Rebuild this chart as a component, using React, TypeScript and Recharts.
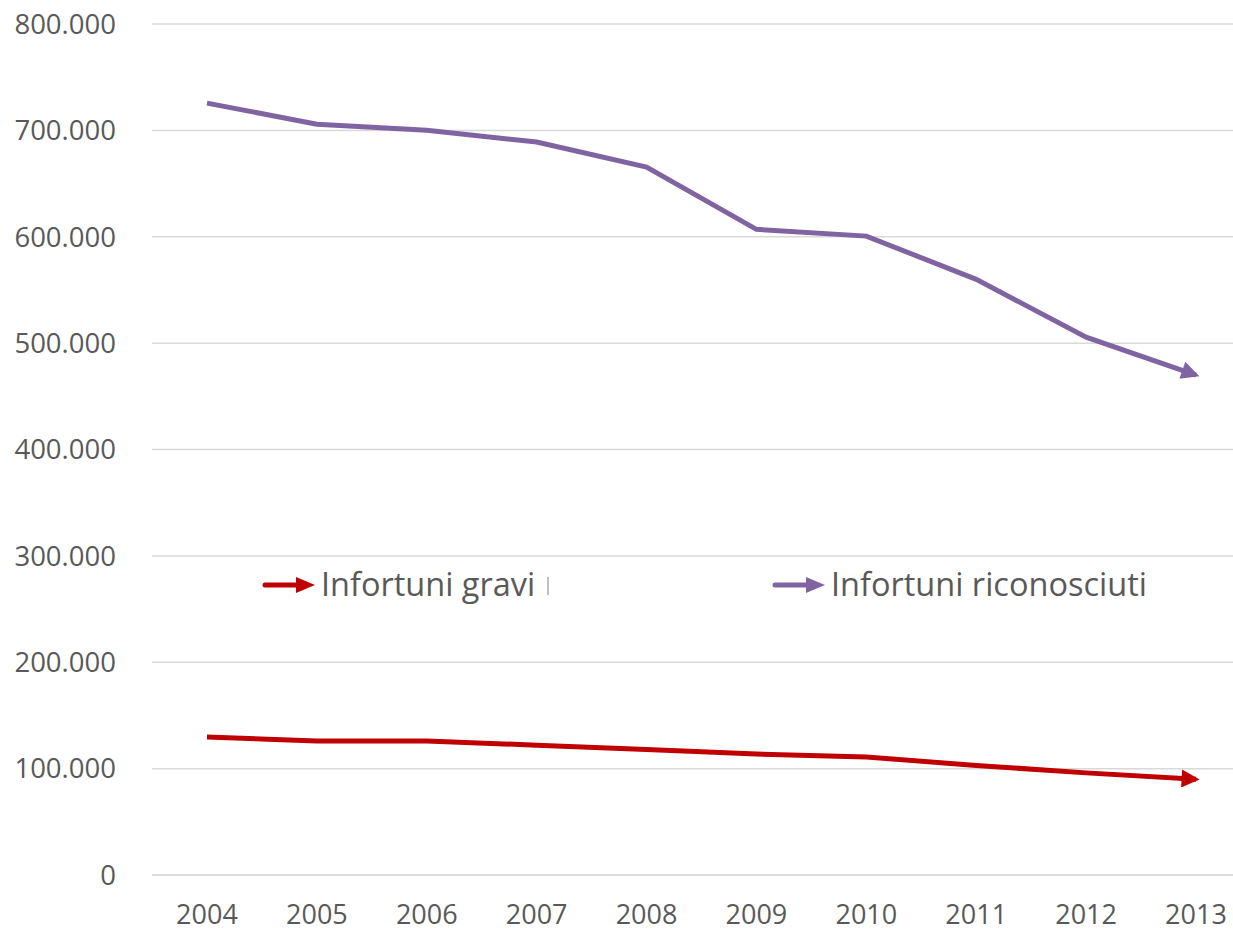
import React from 'react';
import { LineChart, Line, XAxis, YAxis, CartesianGrid, Legend } from 'recharts';

const years = ['2004', '2005', '2006', '2007', '2008', '2009', '2010', '2011', '2012', '2013'];
const infortuniGravi = [129700, 126000, 126000, 122000, 118000, 113700, 111000, 103000, 96000, 90000];
const infortuniRiconosciuti = [725600, 705800, 700200, 689000, 665400, 607000, 600600, 560000, 505600, 470000];
const yTicks = [0, 100000, 200000, 300000, 400000, 500000, 600000, 700000, 800000];

const seriesInfo = [
    { key: 'gravi', name: 'Infortuni gravi', color: '#c00000', marker: 'arrowRed' },
    { key: 'riconosciuti', name: 'Infortuni riconosciuti', color: '#8064a2', marker: 'arrowPurple' },
];

const data = years.map((year, i) => ({
    year,
    gravi: infortuniGravi[i],
    riconosciuti: infortuniRiconosciuti[i],
}));

const FONT = '"Open Sans", "Liberation Sans", sans-serif';
const TEXT = '#595959';

const formatThousands = (v: number) => (v === 0 ? '0' : v.toLocaleString('it-IT').replace(/,/g, '.'));

const LegendIcon = ({ color }: { color: string }) => (
    <svg width={53} height={16} style={{ display: 'block' }}>
        <line x1={3} y1={8} x2={38} y2={8} stroke={color} strokeWidth={5} strokeLinecap="round" />
        <path d="M34,0 L53,8 L34,16 Z" fill={color} />
    </svg>
);

const renderLegend = () => (
    <div style={{ position: 'relative', height: 50, fontFamily: FONT }}>
        {/* Infortuni gravi */}
        <div style={{ position: 'absolute', left: 262, top: 17 }}>
            <LegendIcon color={seriesInfo[0].color} />
        </div>
        <div style={{ position: 'absolute', left: 321, top: 3, fontSize: 32.5, color: TEXT, lineHeight: '42px', whiteSpace: 'nowrap' }}>
            {seriesInfo[0].name}
        </div>
        <div style={{ position: 'absolute', left: 547, top: 17, width: 2, height: 18, background: '#bfbfbf' }} />
        {/* Infortuni riconosciuti */}
        <div style={{ position: 'absolute', left: 772, top: 17 }}>
            <LegendIcon color={seriesInfo[1].color} />
        </div>
        <div style={{ position: 'absolute', left: 831, top: 3, fontSize: 32.5, color: TEXT, lineHeight: '42px', whiteSpace: 'nowrap' }}>
            {seriesInfo[1].name}
        </div>
    </div>
);

export default function App() {
    return (
        <div style={{ position: 'absolute', left: 0, top: 0, width: 1233, height: 929, overflow: 'hidden', background: '#fff' }}>
            <LineChart width={1251} height={929} data={data} margin={{ top: 24, right: 0, left: 0, bottom: 0 }}>
                <defs>
                    {seriesInfo.map(s => (
                        <marker
                            key={s.marker}
                            id={s.marker}
                            viewBox="0 0 10 10"
                            refX={8}
                            refY={5}
                            markerWidth={22}
                            markerHeight={18}
                            markerUnits="userSpaceOnUse"
                            orient="auto"
                        >
                            <path d="M0,0 L10,5 L0,10 Z" fill={s.color} />
                        </marker>
                    ))}
                </defs>
                <CartesianGrid vertical={false} stroke="#d9d9d9" strokeWidth={1.5} />
                <XAxis
                    dataKey="year"
                    padding={{ left: 55, right: 55 }}
                    axisLine={{ stroke: '#d9d9d9', strokeWidth: 1.5 }}
                    tickLine={false}
                    height={54}
                    tickMargin={24}
                    tick={{ fill: TEXT, fontSize: 27, fontFamily: FONT }}
                />
                <YAxis
                    domain={[0, 800000]}
                    ticks={yTicks}
                    axisLine={false}
                    tickLine={false}
                    width={152}
                    tickMargin={30}
                    tickFormatter={formatThousands}
                    tick={{ fill: TEXT, fontSize: 27.5, fontFamily: FONT }}
                />
                <Legend verticalAlign="middle" align="center" layout="horizontal" content={renderLegend} wrapperStyle={{ top: 560, left: 0, width: 1251 }} />
                {seriesInfo.map(s => (
                    <Line
                        key={s.key}
                        dataKey={s.key}
                        name={s.name}
                        type="linear"
                        stroke={s.color}
                        strokeWidth={5}
                        dot={false}
                        activeDot={false}
                        markerEnd={`url(#${s.marker})`}
                        isAnimationActive={false}
                    />
                ))}
            </LineChart>
        </div>
    );
}
